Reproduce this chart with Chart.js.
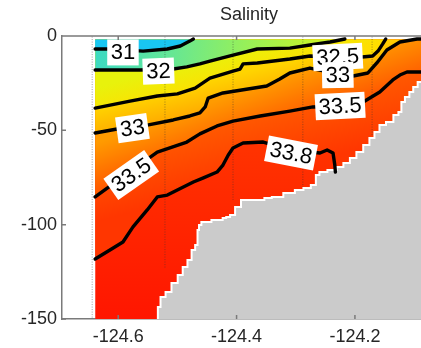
<!DOCTYPE html>
<html>
<head>
<meta charset="utf-8">
<title>Salinity</title>
<script src="https://cdn.jsdelivr.net/npm/chart.js@4"></script>
<style>
  html, body { margin: 0; padding: 0; background: #fff; overflow: hidden; }
  canvas { display: block; }
</style>
</head>
<body>
<canvas id="chart" width="440" height="348"></canvas>
<script>
// axis ticks
const xTicks = [-124.6, -124.4, -124.2];
const xTickLabels = ['-124.6', '-124.4', '-124.2'];
const yTicks = [0, -50, -100, -150];
const yTickLabels = ['0', '-50', '-100', '-150'];

// extent of the sampled section
const surfaceDepth = -1.8;
const dataLon = [-124.639, -124.063];

// contour lines (longitude, depth in m)
const c31Lon = [-124.639, -124.614, -124.558, -124.517, -124.495, -124.479, -124.473];
const c31Depth = [-6.9, -6.9, -8.0, -6.9, -5.3, -2.7, -1.6];

const c32Lon = [-124.639, -124.563, -124.507, -124.484, -124.462, -124.445, -124.406, -124.365, -124.310, -124.276, -124.242, -124.217];
const c32Depth = [-18.0, -18.0, -17.5, -16.4, -14.8, -13.3, -10.1, -6.9, -6.4, -4.8, -3.2, -1.6];

const c325Lon = [-124.639, -124.580, -124.534, -124.500, -124.470, -124.445, -124.406, -124.394, -124.389, -124.365, -124.310, -124.276, -124.229, -124.188, -124.170, -124.161, -124.153, -124.148];
const c325Depth = [-38.2, -34.5, -31.8, -30.7, -27.6, -22.3, -18.6, -17.5, -14.8, -14.3, -12.2, -10.6, -11.1, -11.1, -10.6, -8.0, -4.2, -1.6];

const c33Lon = [-124.639, -124.602, -124.551, -124.507, -124.479, -124.462, -124.453, -124.448, -124.423, -124.349, -124.327, -124.310, -124.276, -124.229, -124.203, -124.178, -124.163, -124.146, -124.124, -124.095, -124.063];
const c33Depth = [-51.4, -49.3, -47.2, -44.5, -42.4, -40.8, -37.6, -32.9, -30.2, -26.5, -22.8, -19.6, -17.0, -20.1, -21.2, -19.6, -14.3, -7.4, -3.2, -1.6, -1.6];

const c335Lon = [-124.639, -124.583, -124.534, -124.484, -124.462, -124.433, -124.406, -124.360, -124.310, -124.271, -124.225, -124.186, -124.158, -124.136, -124.124, -124.112, -124.089, -124.063];
const c335Depth = [-85.3, -72.6, -61.5, -56.2, -51.9, -47.7, -45.1, -42.4, -39.8, -37.6, -37.1, -35.0, -29.7, -23.3, -20.7, -19.1, -19.1, -19.1];

const c338Lon = [-124.639, -124.614, -124.592, -124.575, -124.551, -124.534, -124.517, -124.473, -124.457, -124.433, -124.423, -124.414, -124.406, -124.389, -124.355, -124.310, -124.259, -124.247, -124.237, -124.234, -124.233];
const c338Depth = [-118.2, -113.4, -109.2, -101.2, -92.2, -85.3, -84.3, -77.4, -75.3, -72.1, -68.4, -63.1, -59.4, -56.7, -56.2, -60.4, -62.0, -60.4, -62.0, -68.4, -72.1];
// where the 33.8 band runs on under the sea floor
const c338TailLon = [-124.063];
const c338TailDepth = [-150];

// sea floor
const bathyLon = [-124.533, -124.533, -124.524, -124.516, -124.504, -124.495, -124.487, -124.479, -124.473, -124.467, -124.465, -124.462, -124.457, -124.428, -124.419, -124.416, -124.406, -124.399, -124.386, -124.357, -124.349, -124.332, -124.310, -124.293, -124.281, -124.268, -124.264, -124.256, -124.237, -124.225, -124.214, -124.203, -124.192, -124.180, -124.171, -124.163, -124.154, -124.141, -124.129, -124.124, -124.119, -124.112, -124.104, -124.099, -124.089, -124.063];
const bathyDepth = [-150, -143.6, -138.3, -135.7, -130.9, -126.7, -122.4, -118.7, -113.4, -110.8, -102.8, -100.2, -98.6, -97.5, -96.5, -95.9, -94.9, -90.6, -86.9, -86.9, -85.9, -85.3, -83.2, -81.6, -80.6, -79.0, -73.7, -72.1, -71.0, -69.4, -67.3, -64.7, -61.5, -57.8, -54.1, -50.9, -47.2, -45.6, -41.9, -40.3, -35.0, -32.3, -29.7, -27.0, -24.4, -18.0];

// CTD stations (dotted verticals)
const stationLon = [-124.644, -124.521, -124.406, -124.288, -124.171];
const stationBottom = [-150, -123.0, -86.9, -80.0, -52.5];

// inline contour labels
const labelText = ['31', '32', '33', '33.5', '33.8', '32.5', '33', '33.5'];
const labelLon = [-124.592, -124.532, -124.576, -124.578, -124.308, -124.229, -124.229, -124.225];
const labelDepth = [-8.7, -18.6, -48.8, -73.7, -62.0, -11.1, -20.7, -37.1];
const labelAngle = [0, -2, -8, -35, 11, -3, -1, -3];

const FONT = "'Liberation Sans', Arial, Helvetica, sans-serif";
const axisColor = '#7a7a7a';

const pts = (lon, dep) => lon.map((x, i) => ({ x, y: dep[i] }));

function linGrad(chart, a, b, stops, fallback) {
  const xs = chart.scales.x, ys = chart.scales.y;
  if (!chart.chartArea || !xs || !ys) return fallback;
  const g = chart.ctx.createLinearGradient(
    xs.getPixelForValue(a[0]), ys.getPixelForValue(a[1]),
    xs.getPixelForValue(b[0]), ys.getPixelForValue(b[1]));
  stops.forEach(([t, c]) => g.addColorStop(t, c));
  return g;
}

const fillSet = (data, fill, bg) => ({
  data, fill, backgroundColor: bg,
  borderWidth: 0, borderColor: 'rgba(0,0,0,0)', pointRadius: 0, tension: 0
});

const lineSet = (data) => ({
  data, fill: false, borderColor: '#000', borderWidth: 3.4,
  borderJoinStyle: 'round', borderCapStyle: 'round', pointRadius: 0, tension: 0
});

const toSurface = () => ({ value: surfaceDepth });

const layers = [
  // deepest water, > 33.8
  fillSet(pts(dataLon, [surfaceDepth, surfaceDepth]), 'start',
    ctx => linGrad(ctx.chart, [-124.462, -60.4], [-124.462, -150],
      [[0, 'rgb(255,50,0)'], [1, 'rgb(255,22,0)']], 'rgb(255,35,0)')),
  // 33.5 - 33.8
  fillSet(pts(c338Lon.concat(c338TailLon), c338Depth.concat(c338TailDepth)), toSurface(),
    ctx => linGrad(ctx.chart, [-124.470, -49.8], [-124.442, -81.6],
      [[0, 'rgb(255,90,0)'], [1, 'rgb(255,54,0)']], 'rgb(255,70,0)')),
  // 33 - 33.5
  fillSet(pts(c335Lon, c335Depth), toSurface(),
    ctx => linGrad(ctx.chart, [-124.470, -38.2], [-124.445, -60.4],
      [[0, 'rgb(255,155,0)'], [1, 'rgb(255,92,0)']], 'rgb(255,120,0)')),
  // 32.5 - 33
  fillSet(pts(c33Lon, c33Depth), toSurface(),
    ctx => linGrad(ctx.chart, [-124.467, -25.4], [-124.453, -43.5],
      [[0, 'rgb(255,212,0)'], [1, 'rgb(255,162,0)']], 'rgb(255,185,0)')),
  // 32 - 32.5
  fillSet(pts(c325Lon, c325Depth), toSurface(),
    ctx => linGrad(ctx.chart, [-124.468, -12.7], [-124.453, -29.7],
      [[0, 'rgb(232,242,12)'], [1, 'rgb(255,222,0)']], 'rgb(250,235,0)')),
  // 31 - 32
  fillSet(pts(c32Lon, c32Depth), toSurface(),
    ctx => linGrad(ctx.chart, [-124.639, -4.0], [-124.220, -12.0],
      [[0, 'rgb(60,218,195)'], [0.3, 'rgb(100,230,150)'], [0.6, 'rgb(150,240,90)'],
       [1, 'rgb(215,246,25)']], 'rgb(120,235,120)')),
  // < 31
  fillSet(pts(c31Lon, c31Depth), toSurface(), 'rgb(25,198,242)'),
  // sea floor
  {
    data: pts(bathyLon, bathyDepth), fill: 'start', backgroundColor: '#cbcbcb',
    borderColor: '#ffffff', borderWidth: 2, stepped: 'middle', pointRadius: 0
  }
];

stationLon.forEach((lon, i) => {
  layers.push({
    data: pts([lon, lon], [-0.3, stationBottom[i]]), fill: false,
    borderColor: 'rgba(50,50,50,0.6)', borderWidth: 0.8, borderDash: [1, 1.5], pointRadius: 0
  });
});

[[c31Lon, c31Depth], [c32Lon, c32Depth], [c325Lon, c325Depth], [c33Lon, c33Depth],
 [c335Lon, c335Depth], [c338Lon, c338Depth]].forEach(([lo, de]) => layers.push(lineSet(pts(lo, de))));

// first in the list is painted first
layers.forEach((d, i) => { d.order = layers.length - i; });

const contourLabels = {
  id: 'contourLabels',
  afterDatasetsDraw(chart) {
    const { ctx, scales: { x, y }, chartArea: a } = chart;
    ctx.save();
    ctx.beginPath();
    ctx.rect(a.left, a.top, a.right - a.left, a.bottom - a.top);
    ctx.clip();
    ctx.font = '22px ' + FONT;
    ctx.textAlign = 'center';
    ctx.textBaseline = 'middle';
    labelText.forEach((t, i) => {
      const px = x.getPixelForValue(labelLon[i]);
      const py = y.getPixelForValue(labelDepth[i]);
      const w = ctx.measureText(t).width + 7;
      const h = 26;
      ctx.save();
      ctx.translate(px, py);
      ctx.rotate(labelAngle[i] * Math.PI / 180);
      ctx.fillStyle = '#fff';
      ctx.fillRect(-w / 2, -h / 2, w, h);
      ctx.fillStyle = '#000';
      ctx.fillText(t, 0, 1);
      ctx.restore();
    });
    ctx.restore();
  }
};

const frame = {
  id: 'frame',
  afterDraw(chart) {
    const { ctx, chartArea: a, scales: { x, y } } = chart;
    ctx.save();
    ctx.strokeStyle = axisColor;
    ctx.lineWidth = 1.5;
    ctx.beginPath();
    ctx.moveTo(a.left, a.top);
    ctx.lineTo(a.right, a.top);
    xTicks.forEach(v => {
      const px = x.getPixelForValue(v);
      ctx.moveTo(px, a.bottom); ctx.lineTo(px, a.bottom - 4);
      ctx.moveTo(px, a.top); ctx.lineTo(px, a.top + 4);
    });
    yTicks.forEach(v => {
      const py = y.getPixelForValue(v);
      ctx.moveTo(a.left, py); ctx.lineTo(a.left + 4, py);
    });
    ctx.stroke();
    ctx.restore();
  }
};

new Chart(document.getElementById('chart').getContext('2d'), {
  type: 'line',
  data: { datasets: layers },
  options: {
    responsive: false,
    animation: false,
    events: [],
    layout: { padding: { left: 0, right: 4, top: 0, bottom: 0 } },
    plugins: {
      legend: { display: false },
      tooltip: { enabled: false },
      title: {
        display: true, text: 'Salinity', fullSize: false, color: '#262626',
        font: { family: FONT, size: 18, weight: 'normal' },
        padding: { top: 4, bottom: 10.4 }
      }
    },
    scales: {
      x: {
        type: 'linear', min: -124.695, max: -124.063,
        grid: { display: false, drawTicks: false },
        border: { display: true, color: axisColor, width: 1.5 },
        afterBuildTicks: s => { s.ticks = xTicks.map(v => ({ value: v })); },
        afterFit: s => { s.height = 29; },
        ticks: {
          padding: 7, maxRotation: 0, autoSkip: false, color: '#262626',
          font: { family: FONT, size: 18 },
          callback: v => xTickLabels[xTicks.indexOf(v)]
        }
      },
      y: {
        type: 'linear', min: -150, max: 0,
        grid: { display: false, drawTicks: false },
        border: { display: true, color: axisColor, width: 1.5 },
        afterBuildTicks: s => { s.ticks = yTicks.map(v => ({ value: v })); },
        afterFit: s => { s.width = 62; },
        ticks: {
          padding: 5, autoSkip: false, color: '#262626',
          font: { family: FONT, size: 18 },
          callback: v => yTickLabels[yTicks.indexOf(v)]
        }
      }
    }
  },
  plugins: [contourLabels, frame]
});
</script>
</body>
</html>
